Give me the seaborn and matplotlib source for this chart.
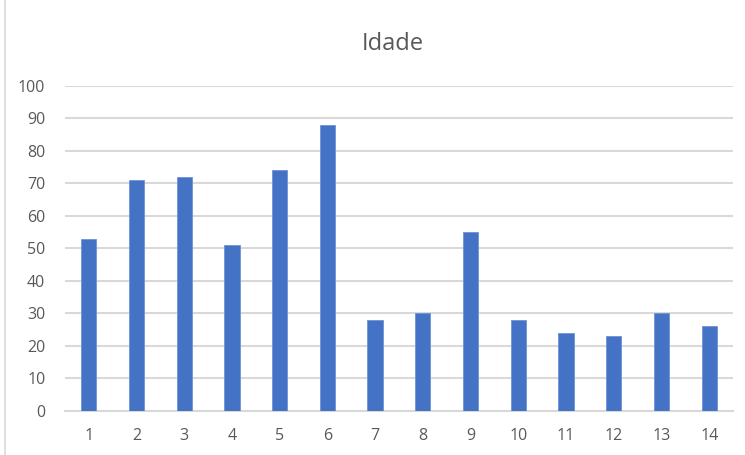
import numpy as np
import pandas as pd
import seaborn as sns
import matplotlib.pyplot as plt
from matplotlib.lines import Line2D

# data
pessoas = [str(i) for i in range(1, 15)]
idade = [53, 71, 72, 51, 74, 88, 28, 30, 55, 28, 24, 23, 30, 26]

df = pd.DataFrame({'pessoa': pessoas, 'idade': idade})

sns.set_theme(style='white')
plt.rcParams['font.family'] = ['Open Sans', 'DejaVu Sans']

fig = plt.figure(figsize=(7.45, 4.55), dpi=100)
ax = fig.add_axes([0.087, 0.097, 0.897, 0.714])

sns.barplot(data=df, x='pessoa', y='idade', color='#4472C4', width=0.32,
            saturation=1, ax=ax, zorder=3, edgecolor='#6F92D4', linewidth=0.6)

ax.set_ylim(0, 100)
ax.set_yticks(np.arange(0, 101, 10))
ax.set_xlim(-0.5, len(pessoas) - 0.5)
ax.yaxis.grid(True, color='#D9D9D9', linewidth=1.5, zorder=0)
ax.xaxis.grid(False)
for s in ['top', 'right', 'left']:
    ax.spines[s].set_visible(False)
ax.spines['bottom'].set_color('#D9D9D9')
ax.spines['bottom'].set_linewidth(1.5)
ax.tick_params(axis='both', length=0, labelsize=11.5, colors='#595959')
ax.tick_params(axis='x', pad=12)
ax.tick_params(axis='y', pad=14)
ax.set_xlabel('')
ax.set_ylabel('')

fig.text(0.527, 0.903, 'Idade', ha='center', va='center', fontsize=17, color='#595959')

# chart border on the left side
fig.add_artist(Line2D([0.007, 0.007], [0, 1], color='#D9D9D9', linewidth=1.2))

fig.savefig('out.png', dpi=100)
